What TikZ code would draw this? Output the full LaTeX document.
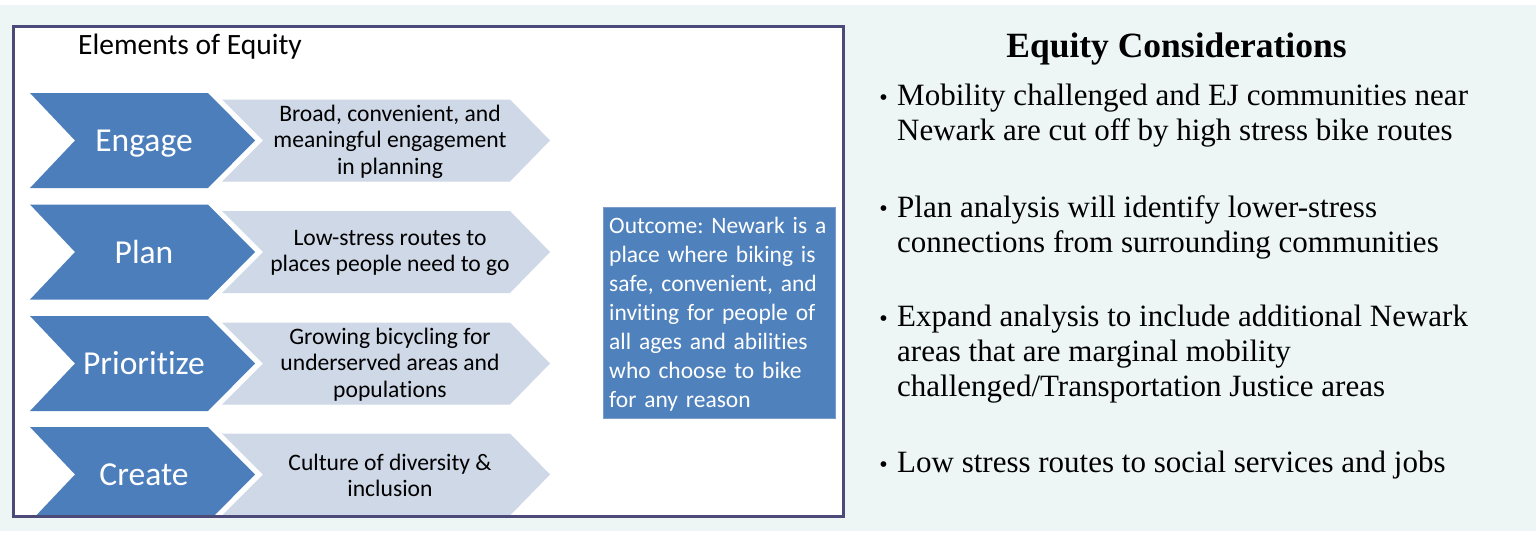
\documentclass[tikz,border=0pt]{standalone}
\usepackage{fontspec}
\setmainfont{Liberation Serif}
\newfontfamily\calib[Ligatures=NoCommon]{Carlito}
\definecolor{bgteal}{HTML}{EEF6F5}
\definecolor{framec}{HTML}{4B4A78}
\definecolor{chblue}{HTML}{4C7EBC}
\definecolor{chlight}{HTML}{CFD8E7}
\definecolor{outfill}{HTML}{4F81BD}
\definecolor{outedge}{HTML}{7B9CCB}
\frenchspacing
\tikzset{
  bluechev/.style={fill=chblue},
  lightchev/.style={fill=chlight},
  steplabel/.style={font=\calib\fontsize{33.5}{36}\selectfont, text=white, anchor=base, inner sep=0pt},
  stepdesc/.style={font=\calib\fontsize{23.6}{26.5}\selectfont, text=black, align=center, inner sep=0pt},
  outbox/.style={fill=outfill, draw=outedge, line width=1pt, minimum width=232pt, minimum height=211pt, inner sep=0pt},
  outtext/.style={text width=222pt, align=left, inner sep=0pt, text=white, anchor=north west,
     font=\calib\fontsize{23.5}{29}\selectfont},
  bullettext/.style={font=\fontsize{31}{35}\selectfont, align=left, anchor=north west, inner sep=0pt},
  bulletdot/.style={font=\fontsize{24}{24}\selectfont, anchor=base east, inner sep=0pt},
}
\newcommand\chevrow[5]{%
  \fill[bluechev] (30,#1-47.5) -- (208,#1-47.5) -- (255,#1) -- (208,#1+47.5) -- (30,#1+47.5) -- (75,#1) -- cycle;
  \fill[lightchev] (222,#1-41) -- (510,#1-41) -- (550,#1) -- (510,#1+41) -- (222,#1+41) -- (263,#1) -- cycle;
  \node[steplabel] (#2) at (144,#1+11) {#3};
  \node[stepdesc] (#4) at (390,#1+1) {#5};
}
\begin{document}
\begin{tikzpicture}[x=1pt,y=-1pt]
\useasboundingbox (0,0) rectangle (1536,535);
\fill[white] (0,0) rectangle (1536,535);
\fill[bgteal] (0,5) rectangle (1536,531);
% left frame
\fill[white] (13.5,26.5) rectangle (843.5,516.5);
\begin{scope}
\clip (13.5,26.5) rectangle (843.5,516.5);
\chevrow{140.5}{engage}{Engage}{engagedesc}{Broad, convenient, and\\meaningful engagement\\in planning}
\chevrow{252}{plan}{Plan}{plandesc}{Low-stress routes to\\places people need to go}
\chevrow{363.5}{prior}{Prioritize}{priordesc}{Growing bicycling for\\underserved areas and\\populations}
\chevrow{474.5}{create}{Create}{createdesc}{Culture of diversity \&\\inclusion}
\end{scope}
\draw[framec, line width=3pt] (13.5,26.5) rectangle (843.5,516.5);
\node[font=\calib\fontsize{29.5}{32}\selectfont, anchor=base west, inner sep=0pt] (eltitle) at (78,55) {Elements of Equity};
\node[outbox] (outcome) at (719,312.5) {};
\node[outtext] (outtxt) at (609,217) {Outcome: Newark is a\\place where biking is\\safe, convenient, and\\inviting for people of\\all ages and abilities\\who choose to bike\\for any reason};
% right side
\node[font=\bfseries\fontsize{35.5}{40}\selectfont, anchor=base, inner sep=0pt] (eqtitle) at (1176.5,58) {Equity Considerations};
\node[bulletdot] (d1) at (888,105) {•};
\node[bullettext] (b1) at (897,84) {Mobility challenged and EJ communities near\\Newark are cut off by high stress bike routes};
\node[bulletdot] (d2) at (888,216) {•};
\node[bullettext] (b2) at (897,195) {Plan analysis will identify lower-stress\\connections from surrounding communities};
\node[bulletdot] (d3) at (888,326) {•};
\node[bullettext] (b3) at (897,305) {Expand analysis to include additional Newark\\areas that are marginal mobility\\challenged/Transportation Justice areas};
\node[bulletdot] (d4) at (888,472) {•};
\node[bullettext] (b4) at (897,451) {Low stress routes to social services and jobs};
\end{tikzpicture}
\end{document}
